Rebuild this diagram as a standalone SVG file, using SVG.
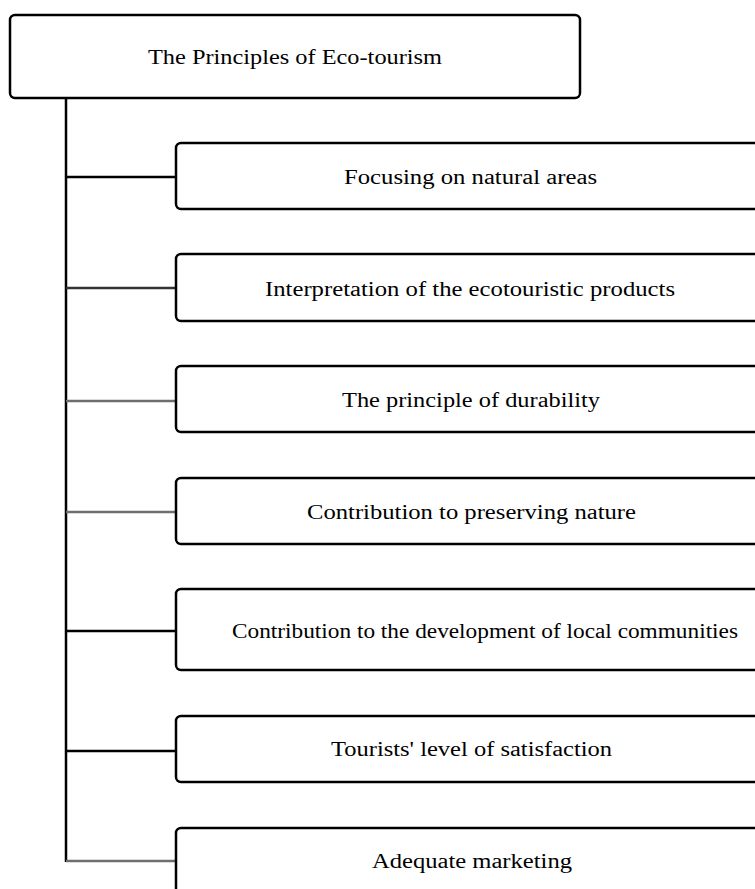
<svg xmlns="http://www.w3.org/2000/svg" width="755" height="889" viewBox="0 0 755 889">
  <style>
    .box { fill: #ffffff; stroke: #000000; stroke-width: 2.5; }
    .label { font-family: "Liberation Serif", "Times New Roman", serif; font-size: 20px; fill: #000000; text-anchor: middle; dominant-baseline: central; }
    .trunk { stroke: #000000; stroke-width: 2.5; fill: none; }
    .branch { stroke-width: 2.5; fill: none; }
  </style>
  <rect width="755" height="889" fill="#ffffff"/>

  <!-- tree connectors: vertical trunk and one branch per principle -->
  <g id="connectors">
    <line class="trunk" x1="66" y1="98" x2="66" y2="862"/>
    <line class="branch" x1="66" y1="177" x2="176" y2="177" stroke="#000000"/>
    <line class="branch" x1="66" y1="288" x2="176" y2="288" stroke="#333333"/>
    <line class="branch" x1="66" y1="401" x2="176" y2="401" stroke="#6e6e6e"/>
    <line class="branch" x1="66" y1="512" x2="176" y2="512" stroke="#6e6e6e"/>
    <line class="branch" x1="66" y1="631" x2="176" y2="631" stroke="#000000" stroke-width="3"/>
    <line class="branch" x1="66" y1="751" x2="176" y2="751" stroke="#000000"/>
    <line class="branch" x1="66" y1="861" x2="176" y2="861" stroke="#6e6e6e"/>
  </g>

  <g id="root">
    <rect class="box" x="10" y="15" width="570" height="83" rx="5"/>
    <text class="label" x="295" y="57" textLength="294" lengthAdjust="spacingAndGlyphs">The Principles of Eco-tourism</text>
  </g>

  <g id="p1">
    <rect class="box" x="176" y="143" width="600" height="66" rx="5"/>
    <text class="label" x="470.5" y="177" textLength="253" lengthAdjust="spacingAndGlyphs">Focusing on natural areas</text>
  </g>

  <g id="p2">
    <rect class="box" x="176" y="254" width="600" height="67" rx="5"/>
    <text class="label" x="470" y="289" textLength="410" lengthAdjust="spacingAndGlyphs">Interpretation of the ecotouristic products</text>
  </g>

  <g id="p3">
    <rect class="box" x="176" y="366" width="600" height="66" rx="5"/>
    <text class="label" x="471" y="400" textLength="258" lengthAdjust="spacingAndGlyphs">The principle of durability</text>
  </g>

  <g id="p4">
    <rect class="box" x="176" y="478" width="600" height="66" rx="5"/>
    <text class="label" x="471.5" y="512" textLength="329" lengthAdjust="spacingAndGlyphs">Contribution to preserving nature</text>
  </g>

  <g id="p5">
    <rect class="box" x="176" y="589" width="600" height="81" rx="5"/>
    <text class="label" x="485" y="631" textLength="506" lengthAdjust="spacingAndGlyphs">Contribution to the development of local communities</text>
  </g>

  <g id="p6">
    <rect class="box" x="176" y="716" width="600" height="66" rx="5"/>
    <text class="label" x="471.5" y="749" textLength="281" lengthAdjust="spacingAndGlyphs">Tourists' level of satisfaction</text>
  </g>

  <g id="p7">
    <rect class="box" x="176" y="828" width="600" height="80" rx="5"/>
    <text class="label" x="472" y="861" textLength="200" lengthAdjust="spacingAndGlyphs">Adequate marketing</text>
  </g>
</svg>
